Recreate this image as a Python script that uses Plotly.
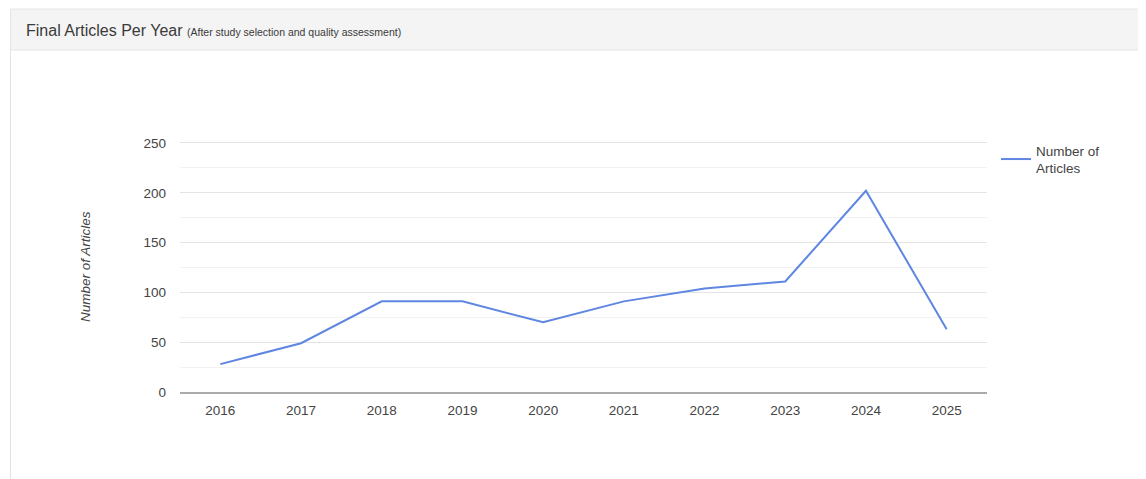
import plotly.graph_objects as go

years = ["2016", "2017", "2018", "2019", "2020", "2021", "2022", "2023", "2024", "2025"]
articles = [28, 49, 91, 91, 70, 91, 104, 111, 202, 63]
y_ticks = [0, 50, 100, 150, 200, 250]

OFF = 8  # default page body margin
W, H = 1146 - OFF, 479 - OFF
L, R, T, B = 180 - OFF, 159, 140 - OFF, 87
pw, ph = W - L - R, H - T - B

def px_x(p):
    return (p - OFF - L) / pw

def px_y(p):
    return (H - B - (p - OFF)) / ph

fig = go.Figure()
fig.add_trace(go.Scatter(
    x=years, y=articles, mode="lines", name="Number of<br>Articles",
    line=dict(color="#5f86e0", width=2),
))

shapes = [
    dict(type="line", xref="paper", yref="paper", x0=px_x(10.5), x1=px_x(10.5),
         y0=px_y(9), y1=px_y(490), line=dict(color="#e3e3e3", width=1), layer="below"),
    dict(type="rect", xref="paper", yref="paper", x0=px_x(10.5), x1=px_x(1160),
         y0=px_y(50), y1=px_y(9), fillcolor="#f4f4f4",
         line=dict(color="#e6e6e6", width=1), layer="below"),
]

fig.update_layout(
    width=W, height=H,
    margin=dict(l=L, r=R, t=T, b=B),
    paper_bgcolor="white", plot_bgcolor="white",
    font=dict(family="Liberation Sans, Arial, sans-serif", color="#444", size=13),
    shapes=shapes,
    showlegend=True,
    legend=dict(x=px_x(996), y=px_y(135), xanchor="left", yanchor="top",
                font=dict(size=13.5, color="#444"), bgcolor="rgba(0,0,0,0)",
                itemwidth=30, tracegroupgap=0),
    annotations=[
        dict(xref="paper", yref="paper", x=px_x(24), y=px_y(30), xanchor="left", yanchor="middle",
             text="Final Articles Per Year <span style='font-size:10.5px'>(After study selection and quality assessment)</span>",
             showarrow=False, font=dict(size=16, color="#3a3a3a")),
        dict(xref="paper", yref="paper", x=px_x(85), y=px_y(267), xanchor="center", yanchor="middle",
             text="<i>Number of Articles</i>", textangle=-90, showarrow=False,
             font=dict(size=13.5, color="#444")),
    ],
)

fig.update_xaxes(
    type="category", range=[-0.5, 9.5],
    showgrid=False, showline=True, linecolor="#aaaaaa", linewidth=2,
    ticks="", tickfont=dict(size=13.5, color="#444"), ticklabelstandoff=5,
    fixedrange=True,
)
fig.update_yaxes(
    range=[0, 253], tickvals=y_ticks,
    showgrid=True, gridcolor="#e4e4e4", gridwidth=1,
    minor=dict(dtick=25, tick0=0, showgrid=True, gridcolor="#f2f2f2", gridwidth=1),
    zeroline=False, ticks="", tickfont=dict(size=13.5, color="#444"),
    ticklabelstandoff=13, fixedrange=True,
)

fig.write_html("out.html")
